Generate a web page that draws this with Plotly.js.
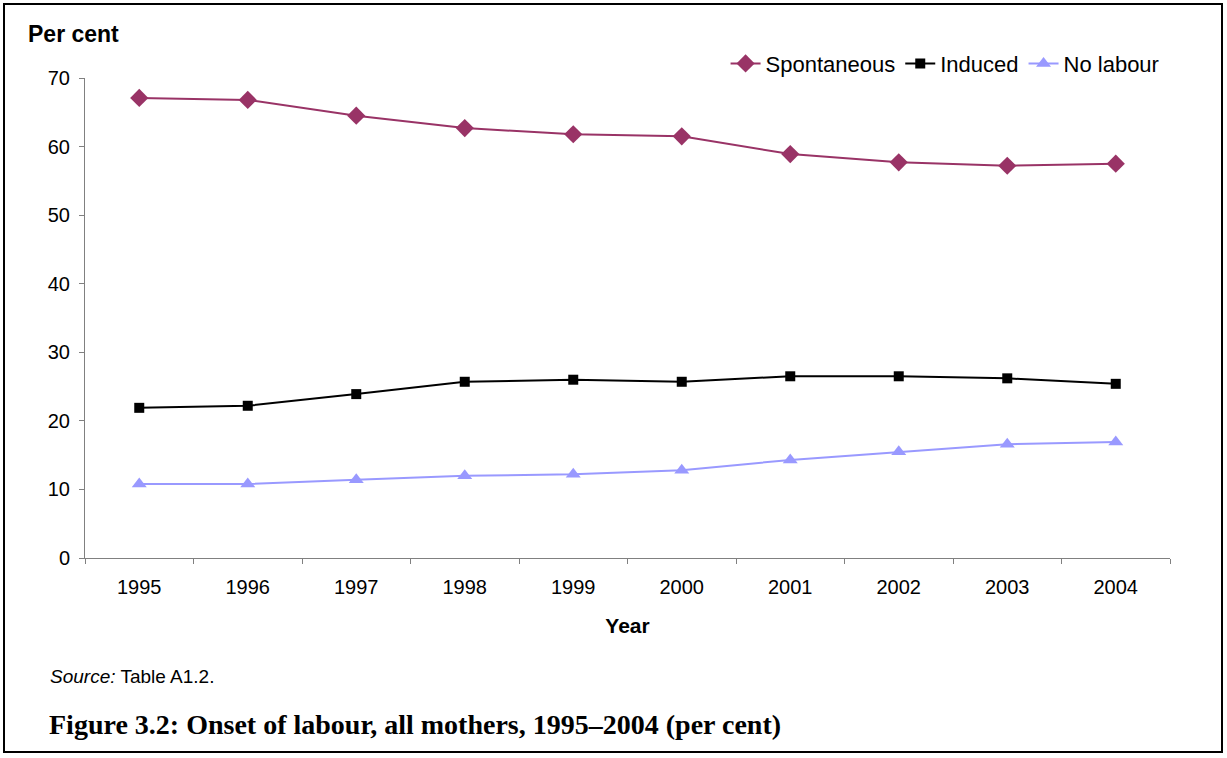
<!DOCTYPE html>
<html>
<head>
<meta charset="utf-8">
<script src="https://cdn.plot.ly/plotly-3.0.1.min.js"></script>
<style>
html,body{margin:0;padding:0;background:#fff;}
#wrap{position:relative;width:1227px;height:758px;}
#chart{position:absolute;left:0;top:0;width:1227px;height:758px;}
#border{position:absolute;left:3px;top:3px;width:1220px;height:750px;border:2px solid #000;pointer-events:none;box-sizing:border-box;}
</style>
</head>
<body>
<div id="wrap"><div id="chart"></div><div id="border"></div></div>
<script>
const years = ['1995','1996','1997','1998','1999','2000','2001','2002','2003','2004'];
const spontaneous = [67.1, 66.8, 64.5, 62.7, 61.8, 61.5, 58.9, 57.7, 57.2, 57.5];
const induced = [21.9, 22.2, 23.9, 25.7, 26.0, 25.7, 26.5, 26.5, 26.2, 25.4];
const noLabour = [10.8, 10.8, 11.4, 12.0, 12.2, 12.8, 14.3, 15.5, 16.6, 16.9];
const yTicks = [0, 10, 20, 30, 40, 50, 60, 70];

const font = 'Liberation Sans, Arial, sans-serif';
const traces = [
  {x: years, y: spontaneous, name: 'Spontaneous', type: 'scatter', mode: 'lines+markers',
   line: {color: '#993366', width: 2}, marker: {symbol: 'diamond', size: 14, color: '#993366'}},
  {x: years, y: induced, name: 'Induced', type: 'scatter', mode: 'lines+markers',
   line: {color: '#000000', width: 2}, marker: {symbol: 'square', size: 10, color: '#000000'}},
  {x: years, y: noLabour, name: 'No labour', type: 'scatter', mode: 'lines+markers',
   line: {color: '#9999FF', width: 2}, marker: {symbol: 'triangle-up', size: 13, color: '#9999FF'}}
];
const layout = {
  width: 1227, height: 758,
  margin: {l: 85, r: 57, t: 78, b: 200},
  paper_bgcolor: '#fff', plot_bgcolor: '#fff',
  font: {family: font, size: 20, color: '#000'},
  showlegend: true,
  legend: {orientation: 'h', x: 0.995, xanchor: 'right', y: 1.03, yanchor: 'middle',
           font: {size: 22, family: font}, bgcolor: 'rgba(0,0,0,0)', traceorder: 'normal'},
  xaxis: {type: 'category', showgrid: false, zeroline: false, showline: true, linecolor: '#808080', linewidth: 1,
          ticks: 'outside', tickson: 'boundaries', ticklen: 5, tickcolor: '#808080', tickfont: {size: 20},
          ticklabelstandoff: 11, range: [-0.5, 9.5],
          title: {text: '<b>Year</b>', font: {size: 21}, standoff: 21}},
  yaxis: {range: [0, 70], tickvals: yTicks, showgrid: false, zeroline: false, showline: true, linecolor: '#808080', linewidth: 1,
          ticks: 'outside', ticklen: 5, tickcolor: '#808080', tickfont: {size: 20}, ticklabelstandoff: 5},
  annotations: [
    {text: '<b>Per cent</b>', xref: 'paper', yref: 'paper', x: -0.054, y: 1.092, xanchor: 'left', yanchor: 'middle', showarrow: false, font: {size: 23, family: font}},
    {text: '<i>Source:</i> Table A1.2.', xref: 'paper', yref: 'paper', x: -0.034, y: -0.247, xanchor: 'left', yanchor: 'middle', showarrow: false, font: {size: 19, family: font}},
    {text: '<b>Figure 3.2: Onset of labour, all mothers, 1995–2004 (per cent)</b>', xref: 'paper', yref: 'paper', x: -0.035, y: -0.347, xanchor: 'left', yanchor: 'middle', showarrow: false, font: {size: 28, family: 'Liberation Serif, Times New Roman, serif'}}
  ]
};
Plotly.newPlot('chart', traces, layout, {displayModeBar: false, staticPlot: true});
</script>
</body>
</html>
